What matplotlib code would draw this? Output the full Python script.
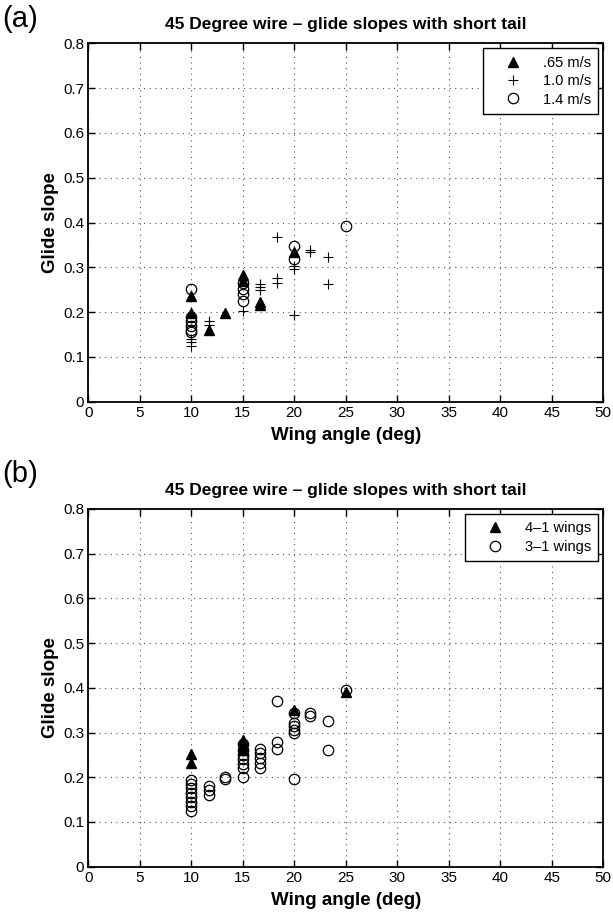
import matplotlib
matplotlib.use("Agg")
import matplotlib.pyplot as plt
from matplotlib.ticker import FuncFormatter

plt.rcParams['font.family'] = ['Liberation Sans', 'DejaVu Sans']

# ---- Panel (a) data ----
a_tri_x = [10, 10, 11.7, 13.3, 15, 15, 16.7, 16.7, 20]
a_tri_y = [0.235, 0.198, 0.161, 0.198, 0.284, 0.27, 0.222, 0.215, 0.335]
a_plus_x = [10, 10, 10, 11.7, 11.7, 15, 16.7, 16.7, 16.7, 18.3, 18.3, 18.3, 20, 20, 20, 21.5, 21.5, 23.3, 23.3]
a_plus_y = [0.14, 0.133, 0.125, 0.18, 0.172, 0.203, 0.262, 0.256, 0.25, 0.368, 0.277, 0.266, 0.303, 0.297, 0.193, 0.338, 0.334, 0.324, 0.262]
a_circ_x = [10, 10, 10, 10, 10, 10, 15, 15, 15, 15, 20, 20, 25]
a_circ_y = [0.251, 0.19, 0.18, 0.17, 0.16, 0.155, 0.266, 0.251, 0.24, 0.225, 0.347, 0.319, 0.392]

# ---- Panel (b) data ----
b_tri_x = [10, 10, 15, 15, 15, 20, 25]
b_tri_y = [0.252, 0.232, 0.284, 0.27, 0.26, 0.35, 0.39]
b_circ_x = [10, 10, 10, 10, 10, 10, 10, 10, 11.7, 11.7, 11.7, 13.3, 13.3,
            15, 15, 15, 15, 15, 15, 15, 16.7, 16.7, 16.7, 16.7, 16.7,
            18.3, 18.3, 18.3, 20, 20, 20, 20, 20, 20, 21.5, 21.5, 23.3, 23.3, 25]
b_circ_y = [0.195, 0.185, 0.175, 0.165, 0.155, 0.145, 0.135, 0.125, 0.18, 0.171, 0.161, 0.2, 0.196,
            0.275, 0.262, 0.25, 0.24, 0.23, 0.22, 0.2, 0.264, 0.254, 0.243, 0.232, 0.221,
            0.37, 0.28, 0.264, 0.344, 0.321, 0.314, 0.306, 0.298, 0.196, 0.344, 0.336, 0.325, 0.262, 0.396]

title = "45 Degree wire \u2013 glide slopes with short tail"
xticks = list(range(0, 51, 5))
yticks = [0, 0.1, 0.2, 0.3, 0.4, 0.5, 0.6, 0.7, 0.8]

fig = plt.figure(figsize=(6.13, 9.13), dpi=100)
ax1 = fig.add_axes([0.144, 0.560, 0.840, 0.3925])
ax2 = fig.add_axes([0.144, 0.0507, 0.840, 0.3918])

def style(ax):
    ax.set_xlim(0, 50)
    ax.set_ylim(0, 0.8)
    ax.set_xticks(xticks)
    ax.set_yticks(yticks)
    ax.yaxis.set_major_formatter(FuncFormatter(lambda v, p: '0' if v == 0 else f'{v:.1f}'))
    ax.tick_params(direction='in', top=True, right=True, labelsize=11, length=5, width=1, pad=3)
    ax.grid(True, linestyle=(0, (1, 4)), color='#555555', linewidth=0.8)
    for s in ax.spines.values():
        s.set_linewidth(1.3)
    ax.set_title(title, fontsize=12.5, fontweight='bold', pad=10)
    ax.set_xlabel("Wing angle (deg)", fontsize=13.5, fontweight='bold', labelpad=5)
    ax.set_ylabel("Glide slope", fontsize=13.5, fontweight='bold', labelpad=3)

ax1.plot(a_tri_x, a_tri_y, '^', color='black', markersize=7.5, linestyle='none', label='.65 m/s')
ax1.plot(a_plus_x, a_plus_y, '+', color='black', markersize=7.5, markeredgewidth=0.8, linestyle='none', label='1.0 m/s')
ax1.plot(a_circ_x, a_circ_y, 'o', markerfacecolor='none', markeredgecolor='black', markersize=7.5, markeredgewidth=0.9, linestyle='none', label='1.4 m/s')
style(ax1)

ax2.plot(b_tri_x, b_tri_y, '^', color='black', markersize=7.5, linestyle='none', label='4\u20131 wings')
ax2.plot(b_circ_x, b_circ_y, 'o', markerfacecolor='none', markeredgecolor='black', markersize=7.5, markeredgewidth=0.9, linestyle='none', label='3\u20131 wings')
style(ax2)

for ax in (ax1, ax2):
    leg = ax.legend(loc='upper right', fontsize=10.5, frameon=True, fancybox=False,
                    edgecolor='black', framealpha=1, borderpad=0.5, handlelength=3.2,
                    handletextpad=0.4, labelspacing=0.3, borderaxespad=0.35)
    leg.get_frame().set_linewidth(1.0)

fig.text(0.003, 0.979, "(a)", fontsize=21, ha='left', va='center')
fig.text(0.003, 0.481, "(b)", fontsize=21, ha='left', va='center')

fig.savefig("out.png", dpi=100)
